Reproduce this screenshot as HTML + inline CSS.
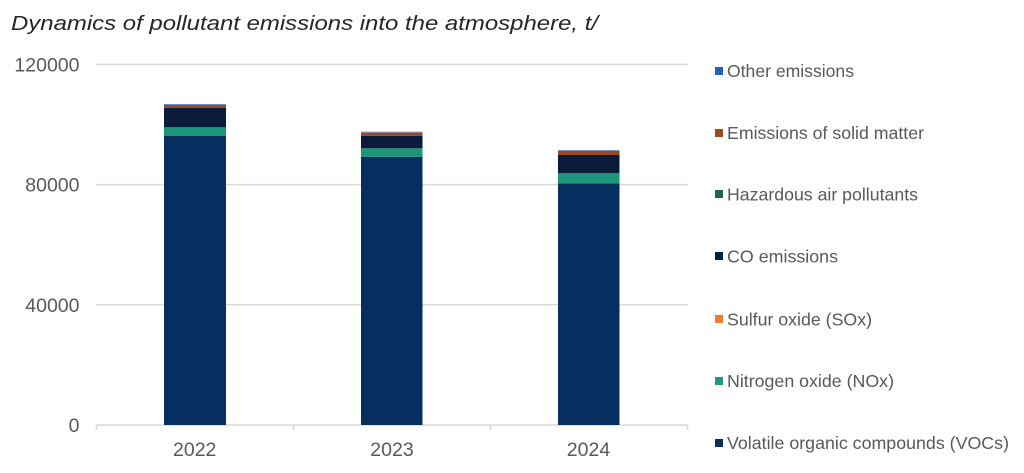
<!DOCTYPE html>
<html>
<head>
<meta charset="utf-8">
<style>
  html, body { margin: 0; padding: 0; background: #ffffff; }
  body { width: 1024px; height: 473px; overflow: hidden; }
  svg { display: block; }
  text { font-family: "Liberation Sans", "DejaVu Sans", sans-serif; }
</style>
</head>
<body>
<svg width="1024" height="473" viewBox="0 0 1024 473" xmlns="http://www.w3.org/2000/svg">
  <rect width="1024" height="473" fill="#ffffff"/>

  <!-- Title -->
  <text x="11" y="30" font-size="20" font-style="italic" fill="#262626" textLength="587" lengthAdjust="spacingAndGlyphs">Dynamics of pollutant emissions into the atmosphere, t/</text>

  <!-- Gridlines -->
  <g stroke="#d9d9d9" stroke-width="1.5">
    <line x1="96" y1="64.4" x2="688" y2="64.4"/>
    <line x1="96" y1="184.6" x2="688" y2="184.6"/>
    <line x1="96" y1="304.8" x2="688" y2="304.8"/>
    <line x1="96" y1="425" x2="688" y2="425"/>
    <!-- ticks -->
    <line x1="96.5" y1="425" x2="96.5" y2="430"/>
    <line x1="293.5" y1="425" x2="293.5" y2="430"/>
    <line x1="490.5" y1="425" x2="490.5" y2="430"/>
    <line x1="687.5" y1="425" x2="687.5" y2="430"/>
  </g>

  <!-- Y axis labels -->
  <g font-size="19.5" fill="#595959" text-anchor="end">
    <text x="79.5" y="71.4">120000</text>
    <text x="79.5" y="191.6">80000</text>
    <text x="79.5" y="311.8">40000</text>
    <text x="79.5" y="432">0</text>
  </g>

  <!-- Bars 2022 -->
  <rect x="164" y="136" width="62" height="289" fill="#062f60"/>
  <rect x="164" y="127.3" width="62" height="8.7" fill="#1b977a"/>
  <rect x="164" y="107.7" width="62" height="19.6" fill="#0a1c3a"/>
  <rect x="164" y="105" width="62" height="2.7" fill="#9a4a1c"/>
  <rect x="164" y="104" width="62" height="1" fill="#6f8fc6"/>

  <!-- Bars 2023 -->
  <rect x="361" y="156.7" width="61.5" height="268.3" fill="#062f60"/>
  <rect x="361" y="148.3" width="61.5" height="8.4" fill="#1b977a"/>
  <rect x="361" y="135.7" width="61.5" height="12.6" fill="#0a1c3a"/>
  <rect x="361" y="132.6" width="61.5" height="3.1" fill="#9a4a1c"/>
  <rect x="361" y="131.7" width="61.5" height="0.9" fill="#6f8fc6"/>

  <!-- Bars 2024 -->
  <rect x="558" y="183.3" width="61.5" height="241.7" fill="#062f60"/>
  <rect x="558" y="173.3" width="61.5" height="10" fill="#1b977a"/>
  <rect x="558" y="155" width="61.5" height="18.3" fill="#0a1c3a"/>
  <rect x="558" y="151" width="61.5" height="4" fill="#9a4a1c"/>
  <rect x="558" y="150" width="61.5" height="1" fill="#6f8fc6"/>

  <!-- X axis labels -->
  <g font-size="19.5" fill="#595959" text-anchor="middle">
    <text x="194.7" y="456">2022</text>
    <text x="392" y="456">2023</text>
    <text x="588.5" y="456">2024</text>
  </g>

  <!-- Legend -->
  <g font-size="17.5" fill="#595959">
    <rect x="715" y="67" width="8" height="8" fill="#1f5fc0"/>
    <text x="727" y="77" textLength="127" lengthAdjust="spacingAndGlyphs">Other emissions</text>

    <rect x="715" y="129" width="8" height="8" fill="#9c4a1a"/>
    <text x="727" y="139" textLength="197" lengthAdjust="spacingAndGlyphs">Emissions of solid matter</text>

    <rect x="715" y="190" width="8" height="8" fill="#1e6651"/>
    <text x="727" y="200.3" textLength="191" lengthAdjust="spacingAndGlyphs">Hazardous air pollutants</text>

    <rect x="715" y="252" width="8" height="8" fill="#0b1f3f"/>
    <text x="727" y="262.3" textLength="111" lengthAdjust="spacingAndGlyphs">CO emissions</text>

    <rect x="715" y="315" width="8" height="8" fill="#ed7d31"/>
    <text x="727" y="325.3" textLength="145" lengthAdjust="spacingAndGlyphs">Sulfur oxide (SOx)</text>

    <rect x="715" y="377" width="8" height="8" fill="#1f9a7c"/>
    <text x="727" y="387" textLength="167" lengthAdjust="spacingAndGlyphs">Nitrogen oxide (NOx)</text>

    <rect x="715" y="439" width="8" height="8" fill="#052f5f"/>
    <text x="727" y="449" textLength="282" lengthAdjust="spacingAndGlyphs">Volatile organic compounds (VOCs)</text>
  </g>
</svg>
</body>
</html>
